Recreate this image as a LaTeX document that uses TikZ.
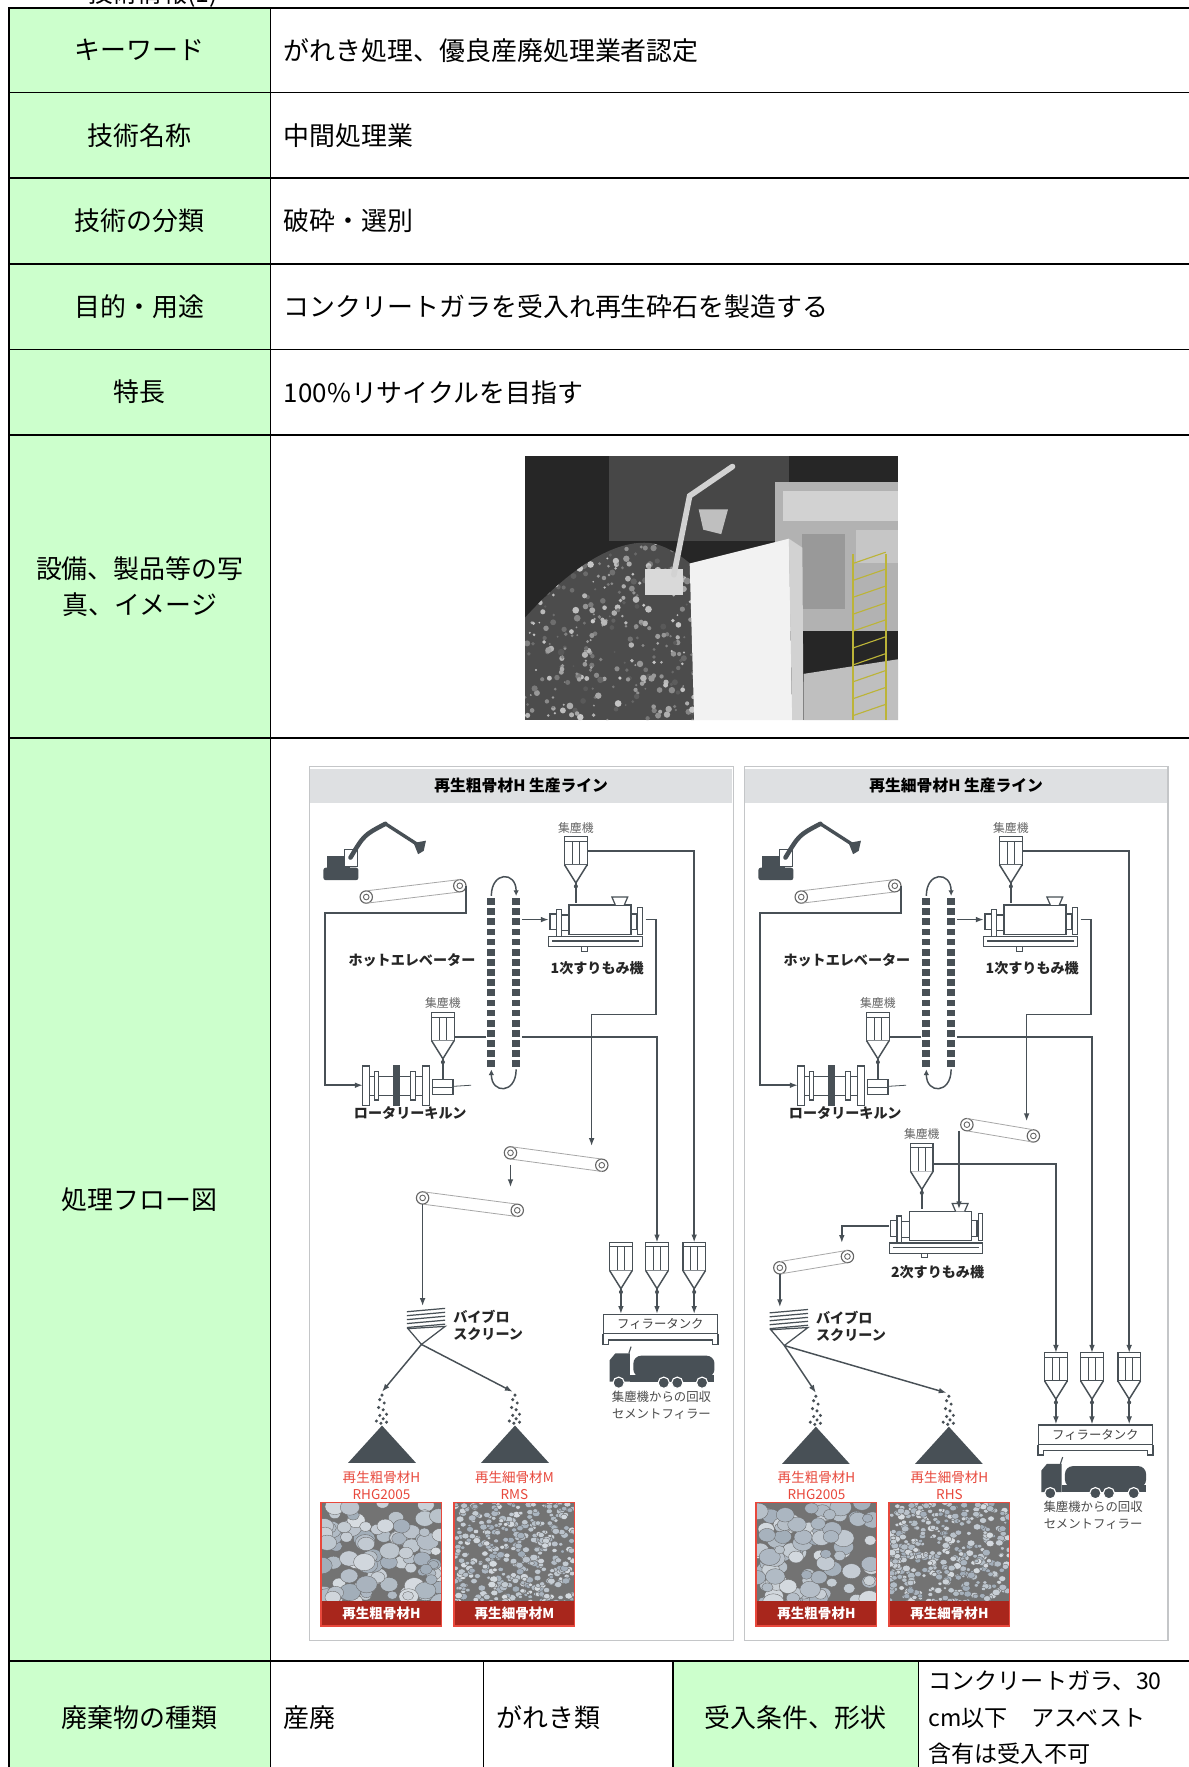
\documentclass[tikz,border=0pt]{standalone}
\usepackage{fontspec}
\setmainfont{Noto Sans CJK JP}
\usetikzlibrary{arrows.meta, calc, positioning}
\definecolor{cellgreen}{RGB}{204,255,204}
\definecolor{eqc}{RGB}{72,80,86}
\definecolor{bandgray}{RGB}{222,224,226}
\definecolor{framegray}{RGB}{196,198,200}
\definecolor{labelred}{RGB}{232,72,60}
\definecolor{aggred}{RGB}{168,38,28}
\definecolor{stone}{RGB}{160,172,184}

% dust collector / filler silo: name, centre of the box
\newcommand{\dust}[2]{%
  \node[dustbox] (#1) at (#2) {};
  \draw[eqline, fill=white] (#1.south west) -- ($(#1.south)+(0,16)$) coordinate (#1t) -- (#1.south east);
  \fill[eqc] ($(#1t)+(0,3)$) circle (1.8);
}
% hulling mill: name, centre
\newcommand{\mill}[2]{%
  \node[box, minimum width=86pt, minimum height=30pt] (#1) at (#2) {};
  \begin{scope}[shift={(#2)}, color=eqc, line width=1.1pt]
    \draw[fill=white] (-43,15) rectangle (40,24) (-40,19) -- (37,19);
    \draw (-14,24) rectangle (-9,28);
    \draw[fill=white] (-25,-13) rectangle (30,13);
    \draw[fill=white] (-36,-9) rectangle (-32,15) (-32,-4) rectangle (-25,10) (-42,-5) rectangle (-36,9);
    \draw[fill=white] (30,-5) rectangle (35,9) (36,-11) rectangle (40,13);
    \draw[fill=white] (16,-13) -- (13,-20) -- (27,-20) -- (24,-13);
  \end{scope}}
% rotary kiln: name, centre
\newcommand{\kiln}[2]{%
  \node[box, minimum width=60pt, minimum height=36pt] (#1) at (#2) {};
  \begin{scope}[shift={(#2)}, color=eqc, line width=1.1pt]
    \draw[fill=white] (-24,-8) rectangle (23,9);
    \draw[fill=white] (-30,-17) rectangle (-24,18) (-20,-12) rectangle (-16,13);
    \draw[fill=eqc] (-3,-17) rectangle (2,18);
    \draw[fill=white] (12,-12) rectangle (17,13) (23,-17) rectangle (29,18);
    \draw[fill=white] (32,-5) rectangle (50,8) (32,2) -- (50,2);
    \draw[line width=0.7pt] (50,1) -- (66,0);
  \end{scope}}
% hot elevator: name, centre
\newcommand{\elevator}[2]{%
  \node[box, minimum width=32pt, minimum height=160pt] (#1) at (#2) {};
  \foreach \k in {0,...,16}{
    \fill[eqc] ($(#1.north)+(-14.5,5+9*\k)$) rectangle ++(7,6);
    \fill[eqc] ($(#1.north)+(7.5,5+9*\k)$) rectangle ++(7,6);}
  \draw[eqline, -{Latex[length=5pt, width=5pt]}] ($(#1.north)+(-11,3)$) .. controls +(0,-22) and +(0,-22) .. ($(#1.north)+(11,3)$);
  \draw[eqline, -{Latex[length=5pt, width=5pt]}] ($(#1.south)+(11,-3)$) .. controls +(0,22) and +(0,22) .. ($(#1.south)+(-11,-3)$);
}
% excavator: name, lower left corner
\newcommand{\digger}[2]{%
  \coordinate (#1) at (#2);
  \begin{scope}[shift={(#2)}, color=eqc]
    \fill[rounded corners=2pt] (0,-11) rectangle (31,0);
    \fill (3,-21) rectangle (24,-10);
    \draw[line width=1pt, fill=white] (19,-27) rectangle (30,-12);
    \draw[line width=4pt, line cap=round] (24,-20) .. controls (36,-40) .. (55,-50);
    \draw[line width=3pt, line cap=round] (55,-50) -- (86,-30);
    \fill (80,-33) -- (91,-35) -- (89,-26) -- (84,-23) -- cycle;
  \end{scope}}
% tank lorry: name, centre
\newcommand{\truck}[2]{%
  \node[box, minimum width=96pt, minimum height=32pt] (#1) at (#2) {};
  \begin{scope}[shift={(#2)}, color=eqc]
    \fill (-46,12) -- (-46,-7) -- (-41,-13) -- (-28,-13) -- (-28,12) -- cycle;
    \draw[line width=1pt] (-29,-13) -- (-27,-19);
    \fill[rounded corners=7pt] (-25,-11) rectangle (47,8);
    \fill (-28,6) rectangle (47,12);
    \foreach \w in {-38,2,14,36} \filldraw[draw=white, line width=1pt] (\w,13) circle (5);
  \end{scope}}
% belt conveyor: name, left roller, right roller
\newcommand{\belt}[3]{%
  \node[roller] (#1a) at (#2) {};
  \node[roller] (#1b) at (#3) {};
  \draw[gray!70, line width=0.7pt] (#1a.north) -- (#1b.north) (#1a.south) -- (#1b.south);
}
% vibrating screen: name, centre
\newcommand{\vscreen}[2]{%
  \node[box, minimum width=42pt, minimum height=34pt] (#1) at (#2) {};
  \begin{scope}[shift={(#2)}, color=eqc, line width=1.1pt]
    \foreach \k in {0,...,4} \draw (-13,-12+3.5*\k) -- (21,-15+3.5*\k);
    \draw[fill=white] (-12,3) -- (21,1) -- (0,17) -- cycle;
  \end{scope}}
% product pile: name of the top, top
\newcommand{\pile}[2]{%
  \coordinate (#1) at (#2);
  \fill[eqc] (#1) -- ++(30,33) -- ++(-60,0) -- cycle;
  \foreach \dx/\dy in {0/-27, -2/-23, 2/-20, -3/-16, 1/-14, 4/-10, -2/-9, 1/-6, -5/-4, 4/-3, -1/-2}
    \fill[eqc] ($(#1)+(\dx,\dy)$) circle (1.5);
}
% aggregate sample: name, upper left corner, caption, stone size, stones
\newcommand{\sample}[5]{%
  \node[aggbox, anchor=north west] (#1) at (#2) {};
  \begin{scope}
    \clip (#1.north west) rectangle (#1.south east);
    \fill[black!55] (#1.north west) rectangle (#1.south east);
    \foreach \i in {1,...,#5}{
      \pgfmathsetmacro{\px}{107*rnd}
      \pgfmathsetmacro{\py}{90*rnd}
      \pgfmathsetmacro{\rr}{#4*(0.6+0.7*rnd)}
      \pgfmathtruncatemacro{\sh}{60*rnd}
      \filldraw[draw=black!60, line width=0.3pt, fill=white!\sh!stone] ($(#1.north west)+(\px,\py)$) ellipse ({1.25*\rr} and \rr);}
  \end{scope}
  \node[aggband, anchor=south] (#1c) at (#1.south) {#3};
  \draw[labelred, line width=1.2pt] (#1.north west) rectangle (#1.south east);
}

\begin{document}
\begin{tikzpicture}[x=1pt, y=-1pt,
  head/.style={rectangle, draw, line width=1.5pt, fill=cellgreen, minimum width=232pt, outer sep=0, align=center, font=\fontsize{23pt}{32pt}\selectfont},
  body/.style={rectangle, draw, line width=1.5pt, text width=794pt, inner xsep=12pt, outer sep=0, align=left, font=\fontsize{23pt}{30pt}\selectfont},
  box/.style={rectangle, inner sep=0, outer sep=0},
  eqline/.style={draw=eqc, line width=1.3pt},
  flow/.style={draw=eqc, line width=1.3pt, -{Latex[length=7pt, width=5pt]}},
  dustbox/.style={rectangle, draw=eqc, line width=1.1pt, fill=white, minimum width=20pt, minimum height=25pt, inner sep=0, outer sep=0,
    path picture={\draw[eqc, line width=0.9pt] ([yshift=-4pt]path picture bounding box.north west) -- ([yshift=-4pt]path picture bounding box.north east)
      ([xshift=-3pt,yshift=-4pt]path picture bounding box.north) -- ([xshift=-3pt]path picture bounding box.south)
      ([xshift=3pt,yshift=-4pt]path picture bounding box.north) -- ([xshift=3pt]path picture bounding box.south);}},
  roller/.style={circle, draw=gray!80!black, line width=1pt, fill=white, minimum size=11pt, inner sep=0, outer sep=0,
    path picture={\draw[gray!80!black, line width=0.8pt] (path picture bounding box.center) circle (2.5pt);}},
  panel/.style={rectangle, draw=framegray, line width=1pt, fill=white, minimum width=376pt, minimum height=775pt, inner sep=0},
  paneltitle/.style={rectangle, fill=bandgray, minimum width=374pt, minimum height=30pt, font=\bfseries\fontsize{14pt}{16pt}\selectfont},
  lbl/.style={font=\bfseries\fontsize{12.5pt}{15pt}\selectfont, text=black!85, inner sep=0},
  dustlabel/.style={font=\fontsize{10.5pt}{12pt}\selectfont, text=black!60, inner sep=0},
  redlbl/.style={font=\fontsize{12pt}{15pt}\selectfont, text=labelred, align=center, inner sep=0},
  notelbl/.style={font=\fontsize{11pt}{15pt}\selectfont, text=black!70, align=center, inner sep=0},
  tank/.style={rectangle, draw=eqc, line width=1.1pt, fill=white, minimum width=101pt, minimum height=17pt, inner sep=0, font=\fontsize{11pt}{12pt}\selectfont, text=black!75},
  aggbox/.style={rectangle, minimum width=107pt, minimum height=110pt, inner sep=0, outer sep=0},
  aggband/.style={rectangle, fill=aggred, text=white, minimum width=107pt, minimum height=22pt, inner sep=0, outer sep=0, font=\bfseries\fontsize{12pt}{14pt}\selectfont}]
  \useasboundingbox (0,0) rectangle (1055,1568);
  \fill[white] (0,0) rectangle (1055,1568);
  \pgfmathsetseed{11}

  % heading cut by the page
  \node[anchor=base west, inner sep=0, font=\fontsize{22pt}{24pt}\selectfont] (pagehead) at (78,2) {技術情報(1)};

  % table
  \node[head, minimum height=75pt, anchor=north west] (kw) at (8,7) {キーワード};
  \node[body, minimum height=75pt, right=0pt of kw] (kwv) {がれき処理、優良産廃処理業者認定};
  \node[head, minimum height=76pt, below=0pt of kw] (name) {技術名称};
  \node[body, minimum height=76pt, right=0pt of name] (namev) {中間処理業};
  \node[head, minimum height=76pt, below=0pt of name] (kind) {技術の分類};
  \node[body, minimum height=76pt, right=0pt of kind] (kindv) {破砕・選別};
  \node[head, minimum height=76pt, below=0pt of kind] (use) {目的・用途};
  \node[body, minimum height=76pt, right=0pt of use] (usev) {コンクリートガラを受入れ再生砕石を製造する};
  \node[head, minimum height=76pt, below=0pt of use] (feat) {特長};
  \node[body, minimum height=76pt, right=0pt of feat] (featv) {100\%リサイクルを目指す};
  \node[head, minimum height=269pt, below=0pt of feat] (photo) {設備、製品等の写\\真、イメージ};
  \node[body, minimum height=269pt, right=0pt of photo] (photov) {};
  \node[head, minimum height=819pt, below=0pt of photo] (flow) {処理フロー図};
  \node[body, minimum height=819pt, right=0pt of flow] (flowv) {};
  \node[head, minimum height=100pt, below=0pt of flow] (waste) {廃棄物の種類};
  \node[body, minimum height=100pt, text width=165pt, right=0pt of waste] (wastea) {産廃};
  \node[body, minimum height=100pt, text width=144pt, right=0pt of wastea] (wasteb) {がれき類};
  \node[head, minimum height=100pt, minimum width=218pt, right=0pt of wasteb] (cond) {受入条件、形状};
  \node[body, minimum height=100pt, text width=230pt, inner xsep=9pt, right=0pt of cond, font=\fontsize{20.5pt}{32.5pt}\selectfont] (condv) {コンクリートガラ、30\\cm以下　アスベスト\\含有は受入不可};

  % photo
  \begin{scope}
    \clip (466,405) rectangle (797,639);
    \fill[black!85] (466,405) rectangle (797,639);
    \fill[black!72] (540,405) rectangle (700,480);
    \fill[gray!60] (688,428) rectangle (797,560);
    \fill[gray!35] (695,436) rectangle (797,462);
    \fill[gray!80] (712,474) rectangle (750,540);
    \fill[gray!45] (760,470) rectangle (797,500);
    \begin{scope}
      \clip (466,548) .. controls (505,505) and (545,478) .. (578,482) .. controls (600,486) and (620,505) .. (640,528) -- (640,639) -- (466,639) -- cycle;
      \fill[gray!60!black] (466,470) rectangle (640,639);
      \foreach \i in {1,...,420}{
        \pgfmathsetmacro{\px}{466+174*rnd}
        \pgfmathsetmacro{\py}{478+161*rnd}
        \pgfmathtruncatemacro{\sh}{35+45*rnd}
        \fill[white!\sh!black] (\px,\py) circle ({0.8+2.2*rnd});}
    \end{scope}
    \fill[gray!10] (612,500) -- (700,478) -- (703,639) -- (616,639) -- cycle;
    \fill[gray!35] (700,478) -- (712,486) -- (713,639) -- (703,639) -- cycle;
    \fill[gray!50] (713,598) -- (797,585) -- (797,639) -- (713,639) -- cycle;
    \fill[gray!30] (572,505) rectangle (606,528);
    \draw[gray!35, line width=5pt, line cap=round] (598,510) -- (612,440) -- (650,414);
    \fill[gray!50] (620,452) -- (646,452) -- (640,474) -- (624,470) -- cycle;
    \draw[yellow!70!black, line width=1.6pt] (757,492) -- (757,639) (786,492) -- (786,639);
    \foreach \k in {0,...,9} \draw[yellow!70!black, line width=1pt] (757,500+15*\k) -- (786,490+15*\k);
  \end{scope}

  % flow panels
  \node[panel, anchor=north west] (panelL) at (274,680) {};
  \node[paneltitle, anchor=north, yshift=-2pt] (titleL) at (panelL.north) {再生粗骨材H 生産ライン};
  \node[panel, anchor=north west] (panelR) at (660,680) {};
  \node[paneltitle, anchor=north, yshift=-2pt] (titleR) at (panelR.north) {再生細骨材H 生産ライン};

  % coarse line
  \digger{digL}{287,781}
  \belt{c1L}{325,796}{408,786}
  \elevator{elevL}{447,872}
  \node[lbl, anchor=east] (elevLlbl) at ([xshift=-9pt, yshift=20pt]elevL.west) {ホットエレベーター};
  \dust{dc1L}{511,755}
  \node[dustlabel, above=3pt of dc1L] (dc1Llbl) {集塵機};
  \mill{mill1L}{530,816}
  \node[lbl, below=22pt of mill1L] (mill1Llbl) {1次すりもみ機};
  \dust{dc2L}{393,911}
  \node[dustlabel, above=3pt of dc2L] (dc2Llbl) {集塵機};
  \kiln{kilnL}{352,963}
  \node[lbl, below=1pt of kilnL, xshift=12pt] (kilnLlbl) {ロータリーキルン};
  \belt{c2L}{453,1023}{534,1034}
  \belt{c3L}{375,1063}{459,1074}
  \vscreen{scrL}{374,1176}
  \node[lbl, right=7pt of scrL, align=left] (scrLlbl) {バイブロ\\スクリーン};
  \pile{p1L}{339,1265}
  \pile{p2L}{457,1265}
  \sample{agL1}{285,1333}{再生粗骨材H}{6}{110}
  \sample{agL2}{403,1333}{再生細骨材M}{2.3}{420}
  \node[redlbl, above=2pt of agL1] (agL1lbl) {再生粗骨材H\\RHG2005};
  \node[redlbl, above=2pt of agL2] (agL2lbl) {再生細骨材M\\RMS};
  \dust{sL1}{551,1115}
  \dust{sL2}{583,1115}
  \dust{sL3}{616,1115}
  \node[tank] (tankL) at (586,1175) {フィラータンク};
  \draw[eqline] (tankL.south west) -- ++(0,9) -- ++(5,0) -- ++(0,-4) -- ($(tankL.south east)+(-5,5)$) -- ++(0,4) -- ++(5,0) -- (tankL.south east);
  \truck{truckL}{587,1214}
  \node[notelbl, below=4pt of truckL] (truckLlbl) {集塵機からの回収\\セメントフィラー};

  % coarse line arrows
  \coordinate (drop2L) at (525,1017);
  \coordinate (dc2Lout) at ([yshift=-9pt]dc2L.east);
  \draw[flow] (c1Lb.east) -- ++(0,24) -- ++(-125,0) |- (kilnL.west);
  \draw[flow] (elevL.east |- mill1L.west) -- (mill1L.west);
  \draw[eqline] (dc1Lt) -- (dc1Lt |- mill1L.north);
  \draw[eqline] (dc2Lt) -- ($(kilnL)+(41,-5)$);
  \draw[flow] (dc1L.east) -| (sL3.north);
  \draw[flow] (mill1L.east) -- ++(9,0) -- ++(0,84) -| (drop2L);
  \draw[eqline] (dc2Lout) -- (elevL.west |- dc2Lout);
  \draw[flow] (elevL.east |- dc2Lout) -| (sL2.north);
  \draw[flow] (c2La.south) ++(0,5) -- ++(0,20);
  \draw[flow] (c3La.south) -- (c3La.south |- scrL.north);
  \draw[flow] (scrL.south) -- ($(p1L)+(0,-30)$);
  \draw[flow] (scrL.south) -- ($(p2L)+(-2,-30)$);
  \foreach \s in {sL1,sL2,sL3} \draw[flow] (\s t) -- (\s t |- tankL.north);

  % fine line
  \digger{digR}{673,781}
  \belt{c1R}{711,796}{794,786}
  \elevator{elevR}{833,872}
  \node[lbl, anchor=east] (elevRlbl) at ([xshift=-9pt, yshift=20pt]elevR.west) {ホットエレベーター};
  \dust{dc1R}{897,755}
  \node[dustlabel, above=3pt of dc1R] (dc1Rlbl) {集塵機};
  \mill{mill1R}{916,816}
  \node[lbl, below=22pt of mill1R] (mill1Rlbl) {1次すりもみ機};
  \dust{dc2R}{779,911}
  \node[dustlabel, above=3pt of dc2R] (dc2Rlbl) {集塵機};
  \kiln{kilnR}{738,963}
  \node[lbl, below=1pt of kilnR, xshift=12pt] (kilnRlbl) {ロータリーキルン};
  \belt{c2R}{858,998}{917,1008}
  \dust{dc3R}{818,1027}
  \node[dustlabel, above=3pt of dc3R] (dc3Rlbl) {集塵機};
  \mill{mill2R}{832,1088}
  \node[lbl, below=20pt of mill2R] (mill2Rlbl) {2次すりもみ機};
  \belt{c3R}{692,1125}{752,1115}
  \vscreen{scrR}{696,1177}
  \node[lbl, right=7pt of scrR, align=left] (scrRlbl) {バイブロ\\スクリーン};
  \pile{p1R}{724,1266}
  \pile{p2R}{842,1266}
  \sample{agR1}{671,1333}{再生粗骨材H}{6}{110}
  \sample{agR2}{789,1333}{再生細骨材H}{2.3}{420}
  \node[redlbl, above=2pt of agR1] (agR1lbl) {再生粗骨材H\\RHG2005};
  \node[redlbl, above=2pt of agR2] (agR2lbl) {再生細骨材H\\RHS};
  \dust{sR1}{937,1213}
  \dust{sR2}{969,1213}
  \dust{sR3}{1002,1213}
  \node[tank] (tankR) at (972,1273) {フィラータンク};
  \draw[eqline] (tankR.south west) -- ++(0,9) -- ++(5,0) -- ++(0,-4) -- ($(tankR.south east)+(-5,5)$) -- ++(0,4) -- ++(5,0) -- (tankR.south east);
  \truck{truckR}{970,1312}
  \node[notelbl, below=4pt of truckR] (truckRlbl) {集塵機からの回収\\セメントフィラー};

  % fine line arrows
  \coordinate (drop2R) at (911,995);
  \coordinate (drop3R) at (747,1103);
  \coordinate (dc2Rout) at ([yshift=-9pt]dc2R.east);
  \draw[flow] (c1Rb.east) -- ++(0,24) -- ++(-125,0) |- (kilnR.west);
  \draw[flow] (elevR.east |- mill1R.west) -- (mill1R.west);
  \draw[eqline] (dc1Rt) -- (dc1Rt |- mill1R.north);
  \draw[eqline] (dc2Rt) -- ($(kilnR)+(41,-5)$);
  \draw[eqline] (dc3Rt) -- (dc3Rt |- mill2R.north);
  \draw[flow] (dc1R.east) -| (sR3.north);
  \draw[flow] (mill1R.east) -- ++(9,0) -- ++(0,84) -| (drop2R);
  \draw[eqline] (dc2Rout) -- (elevR.west |- dc2Rout);
  \draw[flow] (elevR.east |- dc2Rout) -| (sR2.north);
  \draw[flow] ([xshift=-7pt]c2Ra.south) -- ([xshift=-7pt]c2Ra.south |- mill2R.north);
  \draw[flow] ([yshift=-6pt]dc3R.east) -| (sR1.north);
  \draw[flow] (mill2R.west) -| (drop3R);
  \draw[flow] (c3Ra.south) -- (c3Ra.south |- scrR.north);
  \draw[flow] (scrR.south) -- ($(p1R)+(0,-30)$);
  \draw[flow] (scrR.south) -- ($(p2R)+(-2,-30)$);
  \foreach \s in {sR1,sR2,sR3} \draw[flow] (\s t) -- (\s t |- tankR.north);

\end{tikzpicture}
\end{document}
